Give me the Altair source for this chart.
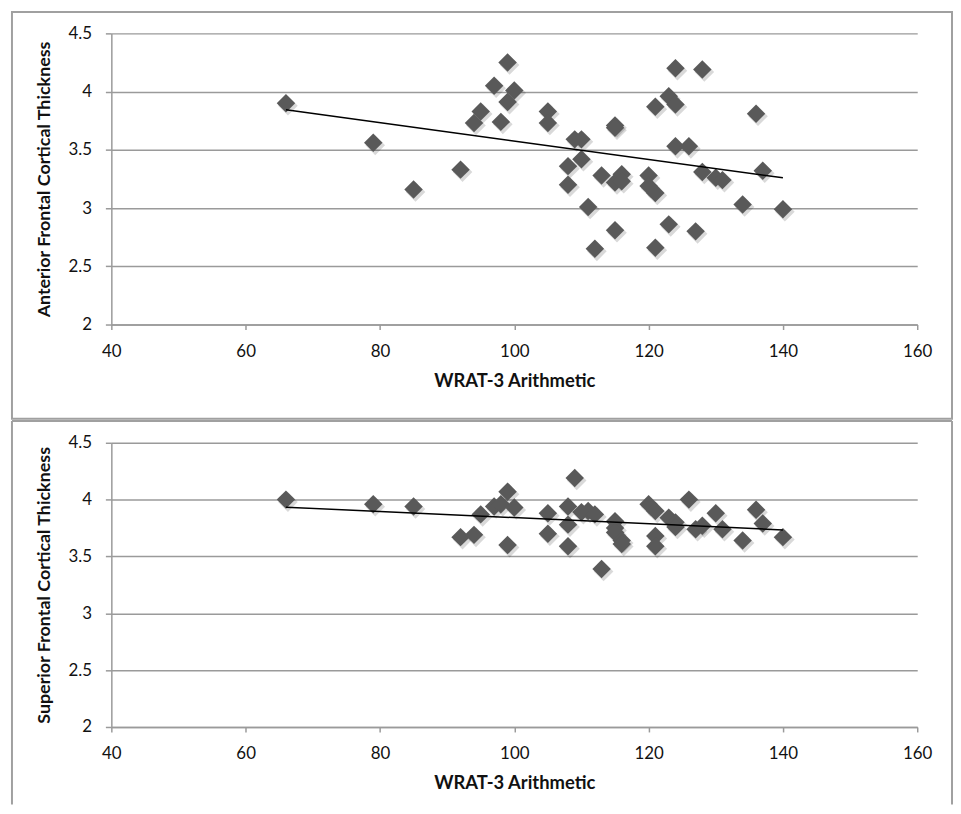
import altair as alt
import pandas as pd

# ---- data ----
wrat_ant = [66, 79, 85, 92, 94, 95, 97, 98, 99, 99, 100, 105, 105, 108, 108, 109, 110, 110,
            111, 112, 113, 115, 115, 115, 115, 116, 116, 120, 120, 121, 121, 121, 123, 123,
            124, 124, 124, 126, 127, 128, 128, 130, 131, 134, 136, 137, 140]
anterior = [3.90, 3.56, 3.16, 3.33, 3.73, 3.83, 4.05, 3.74, 4.25, 3.91, 4.01, 3.83, 3.73, 3.36,
            3.20, 3.59, 3.59, 3.42, 3.01, 2.65, 3.28, 3.71, 3.69, 3.22, 2.81, 3.29, 3.23, 3.28,
            3.19, 3.87, 3.13, 2.66, 3.96, 2.86, 4.20, 3.89, 3.53, 3.53, 2.80, 4.19, 3.31, 3.26,
            3.24, 3.03, 3.81, 3.32, 2.99]

wrat_sup = [66, 79, 85, 92, 94, 95, 97, 98, 99, 99, 100, 105, 105, 108, 108, 108, 109, 110,
            111, 112, 113, 115, 115, 115, 116, 116, 120, 121, 121, 121, 123, 124, 124, 126,
            127, 128, 130, 131, 134, 136, 137, 140]
superior = [4.00, 3.96, 3.94, 3.67, 3.69, 3.87, 3.94, 3.96, 4.07, 3.60, 3.93, 3.88, 3.70, 3.94,
            3.78, 3.59, 4.19, 3.89, 3.90, 3.87, 3.39, 3.81, 3.75, 3.71, 3.64, 3.61, 3.96, 3.90,
            3.68, 3.59, 3.84, 3.80, 3.76, 4.00, 3.74, 3.77, 3.88, 3.74, 3.64, 3.91, 3.79, 3.67]

X_TICKS = [40, 60, 80, 100, 120, 140, 160]
Y_TICKS = [2, 2.5, 3, 3.5, 4, 4.5]
X_TITLE = "WRAT-3 Arithmetic"

FONT = "Lato"
GRID = "#9a9a9a"
POINT = "#595959"
BORDER = "#a0a0a0"
W = 811


def axis_x():
    return alt.Axis(values=X_TICKS, title=X_TITLE, grid=False, domainColor=GRID,
                    domainWidth=1.5, tickColor=GRID, tickSize=5, tickWidth=1.5,
                    labelFlush=False, labelOverlap=False,
                    labelPadding=14, titlePadding=12, labelFont=FONT, labelFontSize=17,
                    labelColor="#111", titleFont=FONT, titleFontSize=18.5,
                    titleFontWeight="bold", titleColor="#111")


def axis_y(title):
    return alt.Axis(values=Y_TICKS, title=title, format="~g", grid=True, gridColor=GRID,
                    gridWidth=1.5, domainColor=GRID, domainWidth=1.5, tickColor=GRID,
                    tickSize=6, tickWidth=1.5, labelPadding=14, titlePadding=15,
                    labelFlush=False, labelOverlap=False,
                    labelFont=FONT, labelFontSize=17, labelColor="#111", titleFont=FONT,
                    titleFontSize=18, titleFontWeight="bold", titleColor="#111")


def panel(xs, ys, ytitle, h, top_off, bottom_ext, closed):
    df = pd.DataFrame({"x": xs, "y": ys})
    x = alt.X("x:Q", scale=alt.Scale(domain=[40, 160], nice=False, zero=False), axis=axis_x())
    y = alt.Y("y:Q", scale=alt.Scale(domain=[2, 4.5], nice=False, zero=False), axis=axis_y(ytitle))
    base = alt.Chart(df)
    shadow = base.mark_point(shape="diamond", filled=True, color="#000000", opacity=0.15,
                             size=390, xOffset=2, yOffset=2.5).encode(x=x, y=y)
    pts = base.mark_point(shape="diamond", filled=True, color=POINT, opacity=1,
                          size=345).encode(x=x, y=y)
    trend = base.transform_regression("x", "y").mark_line(
        color="#000000", strokeWidth=1.5).encode(x=x, y=y)
    one = alt.Chart(pd.DataFrame({"k": [0]}))
    if closed:
        frame = [one.mark_rect(fillOpacity=0, stroke=BORDER, strokeWidth=2).encode(
            x=alt.value(-100), x2=alt.value(W + 35), y=alt.value(top_off),
            y2=alt.value(h + bottom_ext))]
    else:
        frame = [
            one.mark_rule(color=BORDER, strokeWidth=2).encode(
                x=alt.value(-100), y=alt.value(top_off), y2=alt.value(h + bottom_ext)),
            one.mark_rule(color=BORDER, strokeWidth=2).encode(
                x=alt.value(-100), x2=alt.value(W + 35), y=alt.value(top_off)),
            one.mark_rule(color=BORDER, strokeWidth=2).encode(
                x=alt.value(W + 35), y=alt.value(top_off), y2=alt.value(h + bottom_ext)),
        ]
    return alt.layer(*frame, shadow, pts, trend).properties(width=W, height=h)


top = panel(wrat_ant, anterior, "Anterior Frontal Cortical Thickness", 293, -21.5, 94.7, True)
bottom = panel(wrat_sup, superior, "Superior Frontal Cortical Thickness", 286, -22, 78, False)

chart = alt.vconcat(top, bottom, spacing=0).properties(
    padding={"left": 3, "top": 0, "right": 0, "bottom": 0}
).configure_view(stroke=None)

chart.save("out.html", embed_options={"renderer": "svg", "actions": False})
